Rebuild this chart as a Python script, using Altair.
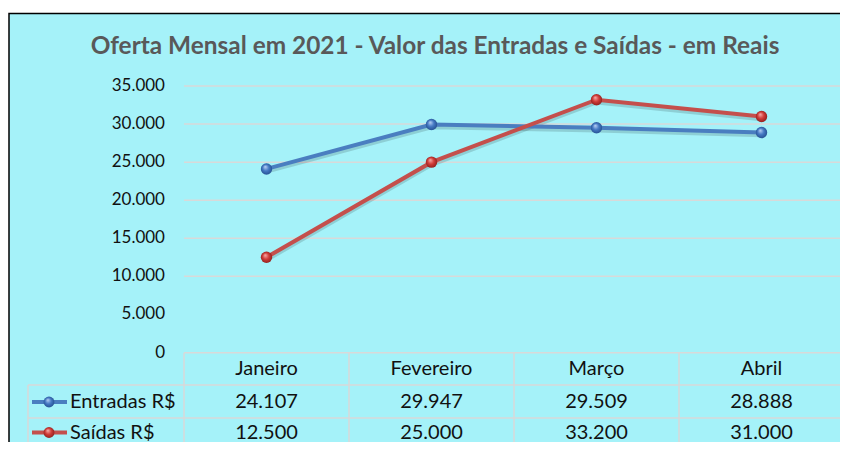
import altair as alt
import pandas as pd

# ---- data ----
meses = ["Janeiro", "Fevereiro", "Março", "Abril"]
entradas = [24107, 29947, 29509, 28888]
saidas = [12500, 25000, 33200, 31000]
series = ["Entradas R$", "Saídas R$"]
y_ticks = [0, 5000, 10000, 15000, 20000, 25000, 30000, 35000]
grid_values = [10000, 15000, 20000, 25000, 30000, 35000]
titulo = "Oferta Mensal em 2021 - Valor das Entradas e Saídas - em Reais"


def fmt(v):
    return f"{v:,}".replace(",", ".")


long = pd.DataFrame({
    "mes": meses * 2,
    "serie": [series[0]] * 4 + [series[1]] * 4,
    "valor": entradas + saidas,
})
long["rotulo"] = long["valor"].map(fmt)
ent = long[long["serie"] == series[0]]
sai = long[long["serie"] == series[1]]
meses_df = pd.DataFrame({"mes": meses})
series_df = pd.DataFrame({"serie": series})

# ---- style ----
FONT = "Lato"
BG = "#A5F2F9"
GRID = "#D9D9D9"
BLUE = "#4A7EC0"
RED = "#C44F4C"

xscale = alt.Scale(type="band", domain=meses, range=[176, 836], paddingInner=0, paddingOuter=0)
yscale = alt.Scale(domain=[0, 35000], range=[344.5, 78], nice=False, zero=False)
yshadow = alt.Scale(domain=[0, 35000], range=[347, 80.5], nice=False, zero=False)
rowscale = alt.Scale(type="point", padding=0, domain=series, range=[394, 424.5])

X = alt.X("mes:N", scale=xscale, axis=None)


def grad(light, mid, dark):
    return alt.RadialGradient(
        gradient="radial",
        stops=[alt.GradientStop(offset=0, color=light),
               alt.GradientStop(offset=0.5, color=mid),
               alt.GradientStop(offset=1, color=dark)],
        x1=0.38, y1=0.3, r1=0, x2=0.5, y2=0.5, r2=0.55)


blue_g = grad("#BFD6F7", "#4579C4", "#234E8E")
red_g = grad("#F7B3B1", "#D23C38", "#8A1F1D")

frame = alt.Chart(pd.DataFrame({"a": [0]})).mark_rect(
    fill=BG, stroke="black", strokeWidth=1.5
).encode(x=alt.value(1), x2=alt.value(870), y=alt.value(5.5), y2=alt.value(470))

grid = alt.Chart(pd.DataFrame({"v": grid_values})).mark_rule(
    color=GRID, strokeWidth=1.5
).encode(y=alt.Y("v:Q", scale=yscale, axis=None), x=alt.value(176), x2=alt.value(837))

ylabels = alt.Chart(pd.DataFrame({"v": y_ticks, "t": [fmt(v) for v in y_ticks]})).mark_text(
    align="right", baseline="middle", font=FONT, fontSize=17, color="#111111"
).encode(y=alt.Y("v:Q", scale=yscale, axis=None), x=alt.value(157), text="t:N")

# table lines
top_line = alt.Chart(pd.DataFrame({"a": [0]})).mark_rule(color=GRID, strokeWidth=1.5).encode(
    x=alt.value(176), x2=alt.value(837), y=alt.value(344.7))
row_lines = alt.Chart(pd.DataFrame({"y": [377, 410]})).mark_rule(color=GRID, strokeWidth=1.5).encode(
    x=alt.value(20), x2=alt.value(837), y=alt.Y("y:Q", scale=None))
col_lines = alt.Chart(meses_df).mark_rule(color=GRID, strokeWidth=1.5).encode(
    x=alt.X("mes:N", scale=xscale, axis=None, bandPosition=0), y=alt.value(344.7), y2=alt.value(450))
col_right = alt.Chart(pd.DataFrame({"mes": [meses[-1]]})).mark_rule(color=GRID, strokeWidth=1.5).encode(
    x=alt.X("mes:N", scale=xscale, axis=None, bandPosition=1), y=alt.value(344.7), y2=alt.value(450))
left_line = alt.Chart(pd.DataFrame({"a": [0]})).mark_rule(color=GRID, strokeWidth=1.5).encode(
    x=alt.value(20), y=alt.value(377), y2=alt.value(450))

header = alt.Chart(meses_df).mark_text(
    font=FONT, fontSize=20, color="#111111", baseline="middle"
).encode(x=X, y=alt.value(361), text="mes:N")

values_txt = alt.Chart(long).mark_text(
    font=FONT, fontSize=20, color="#111111", baseline="middle"
).encode(x=X, y=alt.Y("serie:N", scale=rowscale, axis=None), text="rotulo:N")

leg_lines = alt.Chart(series_df).mark_rule(strokeWidth=4).encode(
    x=alt.value(24), x2=alt.value(59),
    y=alt.Y("serie:N", scale=rowscale, axis=None),
    color=alt.Color("serie:N", scale=alt.Scale(domain=series, range=[BLUE, RED]), legend=None))
leg_blue = alt.Chart(series_df[series_df.serie == series[0]]).mark_circle(
    size=120, fill=blue_g, opacity=1).encode(x=alt.value(41), y=alt.Y("serie:N", scale=rowscale, axis=None))
leg_red = alt.Chart(series_df[series_df.serie == series[1]]).mark_circle(
    size=120, fill=red_g, opacity=1).encode(x=alt.value(41), y=alt.Y("serie:N", scale=rowscale, axis=None))
leg_text = alt.Chart(series_df).mark_text(
    font=FONT, fontSize=20, color="#111111", align="left", baseline="middle"
).encode(x=alt.value(62), y=alt.Y("serie:N", scale=rowscale, axis=None), text="serie:N")

shadow = alt.Chart(long).mark_line(color="black", opacity=0.14, strokeWidth=4.5).encode(
    x=X, y=alt.Y("valor:Q", scale=yshadow, axis=None), detail="serie:N")
line_blue = alt.Chart(ent).mark_line(color=BLUE, strokeWidth=4).encode(
    x=X, y=alt.Y("valor:Q", scale=yscale, axis=None))
line_red = alt.Chart(sai).mark_line(color=RED, strokeWidth=4).encode(
    x=X, y=alt.Y("valor:Q", scale=yscale, axis=None))
pts_blue = alt.Chart(ent).mark_circle(size=130, fill=blue_g, opacity=1).encode(
    x=X, y=alt.Y("valor:Q", scale=yscale, axis=None))
pts_red = alt.Chart(sai).mark_circle(size=130, fill=red_g, opacity=1).encode(
    x=X, y=alt.Y("valor:Q", scale=yscale, axis=None))

title_txt = alt.Chart(pd.DataFrame({"t": [titulo]})).mark_text(
    font=FONT, fontSize=24.4, fontWeight="bold", color="#595959", baseline="middle"
).encode(x=alt.value(427), y=alt.value(39), text="t:N")

chart = alt.layer(
    frame, grid, ylabels, top_line, row_lines, col_lines, col_right, left_line,
    header, values_txt, leg_lines, leg_blue, leg_red, leg_text,
    shadow, line_blue, pts_blue, line_red, pts_red, title_txt,
).resolve_scale(y="independent").properties(
    width=832, height=434, padding=0,
    autosize=alt.AutoSizeParams(type="none"),
    background="white",
).configure_view(stroke=None)

chart.save("out.html", embed_options={"renderer": "svg", "actions": False})
